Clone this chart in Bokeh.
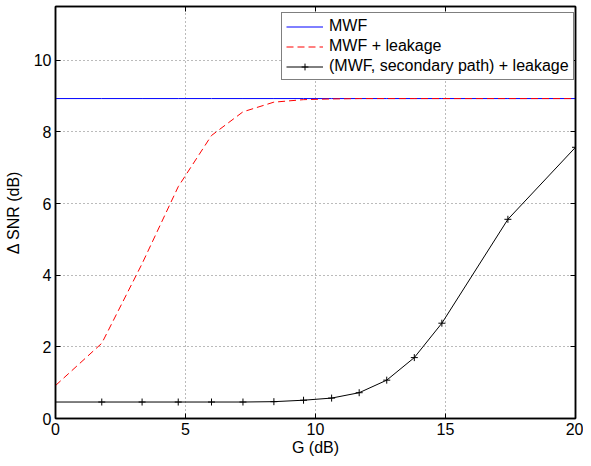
from bokeh.plotting import figure
from bokeh.models import LinearAxis, Range1d, FixedTicker, Legend, LegendItem
from bokeh.embed import file_html
from bokeh.resources import INLINE

# Data
g_db = [0, 1.78, 3.33, 4.72, 6.0, 7.21, 8.4, 9.54, 10.62, 11.68, 12.74, 13.8, 14.86, 17.4, 20]
snr_mwf = [8.93, 8.93, 8.93, 8.93, 8.93, 8.93, 8.93, 8.93, 8.93, 8.93, 8.93, 8.93, 8.93, 8.93, 8.93]
snr_leak = [0.92, 2.1, 4.32, 6.47, 7.9, 8.56, 8.83, 8.90, 8.92, 8.93, 8.93, 8.93, 8.93, 8.93, 8.93]
snr_sec = [0.46, 0.46, 0.46, 0.46, 0.46, 0.46, 0.47, 0.51, 0.57, 0.72, 1.07, 1.70, 2.66, 5.56, 7.57]
x_ticks = [0, 5, 10, 15, 20]
y_ticks = [0, 2, 4, 6, 8, 10]

FONT = "Liberation Sans"
FS = "16px"

p = figure(width=583, height=458, output_backend="svg", toolbar_location=None,
           x_range=Range1d(0, 20), y_range=Range1d(0, 11.5),
           min_border_left=55, min_border_right=8, min_border_top=6, min_border_bottom=36)
p.background_fill_color = "white"
p.border_fill_color = "white"
p.outline_line_color = "black"
p.outline_line_width = 1.5

for ax, ticks in ((p.xaxis[0], x_ticks), (p.yaxis[0], y_ticks)):
    ax.ticker = FixedTicker(ticks=ticks)
    ax.major_tick_in = 5
    ax.major_tick_out = 0
    ax.minor_tick_line_color = None
    ax.axis_line_width = 1.5
    ax.axis_line_color = "black"
    ax.major_tick_line_color = "black"
    ax.major_label_text_font = FONT
    ax.major_label_text_font_size = FS
    ax.major_label_text_color = "black"
    ax.major_label_text_line_height = 0.7
    ax.axis_label_text_font = FONT
    ax.axis_label_text_font_size = FS
    ax.axis_label_text_font_style = "normal"
    ax.axis_label_text_color = "black"
    ax.axis_label_text_line_height = 0.7

p.xaxis.axis_label = "G (dB)"
p.yaxis.axis_label = "\u0394 SNR (dB)"
p.xaxis.major_label_standoff = 4
p.xaxis.axis_label_standoff = 1
p.yaxis.major_label_standoff = 4
p.yaxis.axis_label_standoff = 9

for side, ticks in (("right", y_ticks), ("above", x_ticks)):
    ax = LinearAxis(ticker=FixedTicker(ticks=ticks), major_tick_in=5, major_tick_out=0,
                    minor_tick_line_color=None, major_label_text_font_size="1px",
                    major_label_text_color=None,
                    major_label_standoff=0, axis_line_width=1.5, axis_line_color="black",
                    major_tick_line_color="black")
    p.add_layout(ax, side)

p.xgrid.ticker = FixedTicker(ticks=x_ticks)
p.ygrid.ticker = FixedTicker(ticks=y_ticks)
for gr in (p.xgrid[0], p.ygrid[0]):
    gr.grid_line_color = "#777777"
    gr.grid_line_dash = "1 3"
    gr.grid_line_width = 1

r_mwf = p.line(g_db, snr_mwf, line_color="#0000ff", line_width=1)
r_leak = p.line(g_db, snr_leak, line_color="#ff0000", line_width=1, line_dash="7 4")
r_sec = p.line(g_db, snr_sec, line_color="black", line_width=1)
r_sec_m = p.scatter(g_db[1:], snr_sec[1:], marker="cross", size=7, line_color="black", line_width=1)

legend = Legend(items=[
    LegendItem(label="MWF", renderers=[r_mwf]),
    LegendItem(label="MWF + leakage", renderers=[r_leak]),
    LegendItem(label="(MWF, secondary path) + leakage", renderers=[r_sec, r_sec_m]),
], location=(226, 338))
legend.margin = 0
legend.padding = 4
legend.spacing = 2
legend.label_height = 17
legend.glyph_width = 37
legend.glyph_height = 17
legend.label_standoff = 6
legend.label_text_font = FONT
legend.label_text_font_size = FS
legend.label_text_color = "black"
legend.border_line_color = "black"
legend.border_line_width = 1.5
legend.background_fill_color = "white"
legend.background_fill_alpha = 1
p.add_layout(legend, "center")

open("out.html", "w").write(file_html(p, INLINE))
